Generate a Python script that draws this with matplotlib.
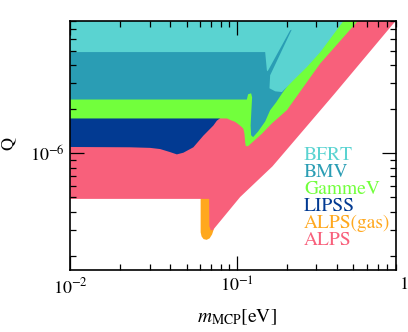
import numpy as np
import matplotlib.pyplot as plt
from matplotlib.ticker import NullFormatter

plt.rcParams['font.family'] = 'STIXGeneral'
plt.rcParams['mathtext.fontset'] = 'stix'

# excluded regions (lie above the curves), m in eV, Q in units of e
# each list is a closed outline
alps_gas_m = [0.0607, 0.0607, 0.0615, 0.0632, 0.0659, 0.0687, 0.0711, 0.0731, 0.0731]
alps_gas_q = [5.01e-7, 2.89e-7, 2.71e-7, 2.60e-7, 2.57e-7, 2.63e-7, 2.80e-7, 3.08e-7, 5.01e-7]

alps_m = [0.005, 0.0682, 0.0685, 0.0697, 0.0716, 0.1046, 0.1635, 0.383, 0.891, 1.05, 0.005]
alps_q = [4.89e-7, 4.89e-7, 3.18e-7, 3.00e-7, 2.98e-7, 5.03e-7, 8.15e-7, 2.53e-6, 7.96e-6, 1e-5, 1e-5]

lipss_m = [0.005, 0.0229, 0.0302, 0.0347, 0.0398, 0.0437, 0.0478, 0.0549, 0.0630, 0.0724,
           0.0759, 0.0805, 0.1046, 0.14, 0.005]
lipss_q = [1.11e-6, 1.10e-6, 1.09e-6, 1.07e-6, 1.02e-6, 9.84e-7, 1.01e-6, 1.10e-6, 1.32e-6, 1.55e-6,
           1.67e-6, 1.76e-6, 3.69e-6, 1e-5, 1e-5]

gammev_m = [0.005, 0.0875, 0.0912, 0.0977, 0.1022, 0.1072, 0.1095, 0.1111, 0.1122, 0.1132,
            0.1169, 0.1230, 0.1413, 0.1622, 0.1995, 0.316, 0.529, 0.63, 0.005]
gammev_q = [1.73e-6, 1.73e-6, 1.69e-6, 1.64e-6, 1.58e-6, 1.51e-6, 1.47e-6, 1.36e-6, 1.19e-6, 1.12e-6,
            1.12e-6, 1.18e-6, 1.36e-6, 1.60e-6, 1.97e-6, 4.10e-6, 7.96e-6, 1e-5, 1e-5]

bmv_m = [0.005, 0.1148, 0.1169, 0.1218, 0.1235, 0.1223, 0.1210, 0.1218, 0.1252, 0.1342,
         0.1479, 0.1584, 0.1721, 0.1870, 0.2237, 0.2753, 0.353, 0.40, 0.005]
bmv_q = [2.33e-6, 2.33e-6, 2.53e-6, 2.57e-6, 2.41e-6, 1.97e-6, 1.55e-6, 1.33e-6, 1.29e-6, 1.41e-6,
         1.65e-6, 1.97e-6, 2.23e-6, 2.57e-6, 3.41e-6, 5.05e-6, 7.96e-6, 1e-5, 1e-5]

bfrt_m = [0.005, 0.1479, 0.1514, 0.1530, 0.2088, 0.2132, 0.1584, 0.1569, 0.1698, 0.1862,
          0.2185, 0.263, 0.316, 0.434, 0.50, 0.005]
bfrt_q = [4.91e-6, 4.91e-6, 3.69e-6, 3.63e-6, 6.91e-6, 6.97e-6, 3.41e-6, 2.78e-6, 2.65e-6, 2.62e-6,
          3.15e-6, 3.88e-6, 4.89e-6, 7.96e-6, 1e-5, 1e-5]

names = ['BFRT', 'BMV', 'GammeV', 'LIPSS', 'ALPS(gas)', 'ALPS']
colors = ['#5AD3D1', '#2A9DB4', '#72FF3C', '#023A92', '#FFA81E', '#F8607B']

fig = plt.figure(figsize=(4.08, 3.32), dpi=100)
ax = fig.add_axes([70/408, 62/332, 326/408, 249/332])

# drawn bottom-up so the stronger bounds sit on top
regions = [(alps_gas_m, alps_gas_q, colors[4]),
           (alps_m, alps_q, colors[5]),
           (lipss_m, lipss_q, colors[3]),
           (gammev_m, gammev_q, colors[2]),
           (bmv_m, bmv_q, colors[1]),
           (bfrt_m, bfrt_q, colors[0])]
for m, q, c in regions:
    ax.fill(m, q, color=c, lw=0)

ax.set_xscale('log')
ax.set_yscale('log')
ax.set_xlim(0.01, 0.9)
ax.set_ylim(1.6e-7, 8e-6)

ax.tick_params(which='both', direction='in', top=True, right=True, width=0.9, labelsize=13)
ax.tick_params(which='major', length=10)
ax.tick_params(which='minor', length=4.5)
ax.tick_params(axis='x', pad=5)
ax.xaxis.set_minor_formatter(NullFormatter())
ax.yaxis.set_minor_formatter(NullFormatter())
for s in ax.spines.values():
    s.set_linewidth(1.2)

# label for the x = 1 tick just past the frame
ax.annotate(r'$\mathdefault{1}$', xy=(1, 0), xycoords=('data', 'axes fraction'),
            xytext=(0, -5), textcoords='offset points', ha='center', va='top',
            fontsize=13, annotation_clip=False)

ax.set_xlabel(r'$m_{\rm MCP}$[eV]', fontsize=14)
ax.set_ylabel('Q', fontsize=13)
ax.xaxis.set_label_coords(0.511, -0.15)
ax.yaxis.set_label_coords(-0.163, 0.51)

for i, (n, c) in enumerate(zip(names, colors)):
    ax.text(0.718, 0.442 - i*0.0683, n, color=c, fontsize=14, transform=ax.transAxes, va='baseline')

fig.savefig('out.png', dpi=100)
